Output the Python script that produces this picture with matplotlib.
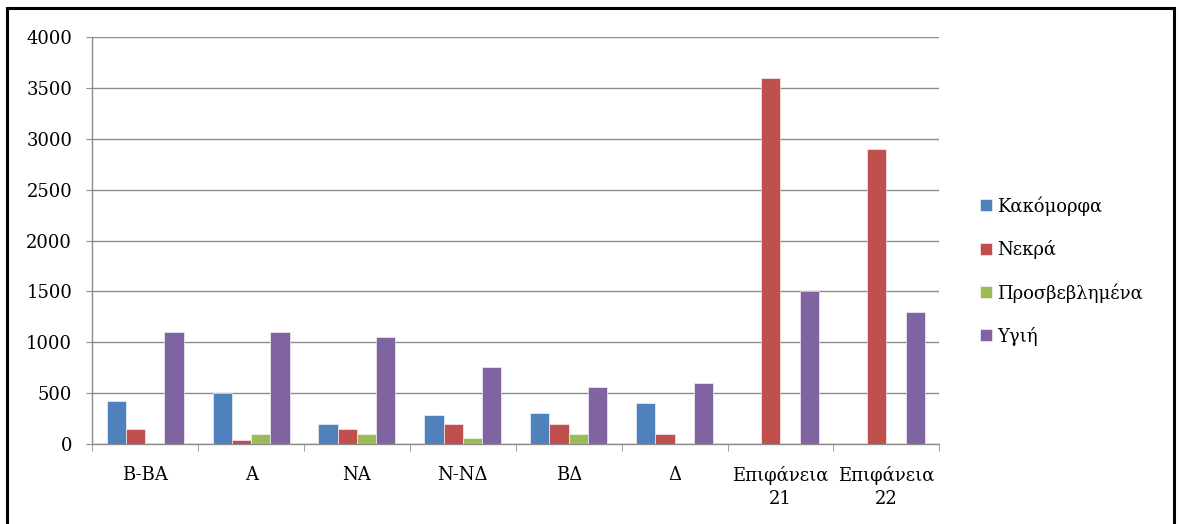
import matplotlib
matplotlib.use("Agg")
import matplotlib.pyplot as plt
from matplotlib.patches import Rectangle
import numpy as np

categories = ["B-BA", "A", "NA", "N-NΔ", "BΔ", "Δ", "Επιφάνεια\n21", "Επιφάνεια\n22"]
series_names = ["Κακόμορφα", "Νεκρά", "Προσβεβλημένα", "Υγιή"]
kakomorfa = [420, 500, 200, 285, 300, 400, 0, 0]
nekra = [145, 40, 145, 200, 200, 95, 3600, 2900]
prosvevlimena = [0, 95, 95, 60, 95, 0, 0, 0]
ygii = [1100, 1100, 1050, 760, 560, 600, 1500, 1300]
y_ticks = [0, 500, 1000, 1500, 2000, 2500, 3000, 3500, 4000]

colors = ["#4F81BD", "#C0504D", "#9BBB59", "#8064A2"]

plt.rcParams['font.family'] = ['DejaVu Serif']
FS = 13

W, H = 1181, 524
fig = plt.figure(figsize=(W/100, H/100), dpi=100)
ax = fig.add_axes([92.3/W, 1-444/H, (939.3-92.3)/W, (444-37)/H])

x = np.arange(len(categories))
w = 1/5.5
data = [kakomorfa, nekra, prosvevlimena, ygii]
for k, (name, vals, c) in enumerate(zip(series_names, data, colors)):
    ax.bar(x + (k-1.5)*w, vals, width=w, color=c, label=name,
           edgecolor='white', linewidth=0.4, zorder=3)

ax.set_xlim(-0.5, len(categories)-0.5)
ax.set_ylim(0, 4000)
ax.set_yticks(y_ticks)
ax.set_yticklabels([str(t) for t in y_ticks])
ax.yaxis.grid(True, color='#8C8C8C', linewidth=1.0, zorder=0)
ax.set_axisbelow(True)

ax.set_xticks(x)
ax.set_xticklabels(categories, fontsize=FS, linespacing=1.35)
ax.set_xticks(np.arange(len(categories)+1) - 0.5, minor=True)
ax.tick_params(axis='x', which='major', length=0, pad=16)
ax.tick_params(axis='x', which='minor', length=5, color='#8C8C8C', direction='out')
ax.tick_params(axis='y', length=4.5, color='#8C8C8C', labelsize=FS, pad=10)

for s in ['top', 'right']:
    ax.spines[s].set_visible(False)
for s in ['left', 'bottom']:
    ax.spines[s].set_color('#8C8C8C')
    ax.spines[s].set_linewidth(1.0)

leg = fig.legend(loc='upper left', bbox_to_anchor=(973/W, 1-189/H), frameon=False,
                 fontsize=FS, handlelength=0.65, handleheight=0.65,
                 handletextpad=0.3, labelspacing=1.34, borderaxespad=0)

fig.patches.append(Rectangle((7/W, -0.05), (1174-7)/W, 1.05 - 8/H, transform=fig.transFigure,
                             fill=False, edgecolor='black', linewidth=2.2))

fig.savefig("out.png", dpi=100)
